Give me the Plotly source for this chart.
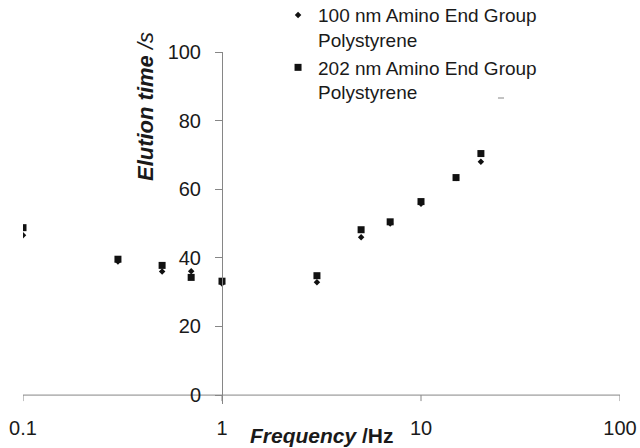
import plotly.graph_objects as go

frequency_hz = [0.1, 0.3, 0.5, 0.7, 1, 3, 5, 7, 10, 15, 20]
elution_100nm = [46.6, 38.9, 36.0, 36.1, 32.5, 32.9, 46.0, 50.0, 55.8, 63.3, 68.0]
elution_202nm = [48.8, 39.6, 37.8, 34.3, 33.2, 34.8, 48.2, 50.5, 56.4, 63.4, 70.4]
series_names = ["100 nm Amino End Group<br>Polystyrene", "202 nm Amino End Group<br>Polystyrene"]
x_range_decades = [-1, 2]
x_tickvals = [0.1, 1, 10, 100]
y_tickvals = [0, 20, 40, 60, 80, 100]
tick_depth = 1.75

FONT = "Liberation Sans, Arial, sans-serif"
TXT = "#1a1a1a"
AX = "#868686"

# x-axis line and downward ticks built from the tick values
axis_x = [x_tickvals[0], x_tickvals[-1]]
tick_x, tick_y = [], []
for v in x_tickvals:
    tick_x += [v, v, None]
    tick_y += [0, -tick_depth, None]

fig = go.Figure()
fig.add_trace(go.Scatter(x=axis_x, y=[0, 0], mode="lines", showlegend=False, hoverinfo="skip",
                         line=dict(color=AX, width=1)))
fig.add_trace(go.Scatter(x=tick_x, y=tick_y, mode="lines", showlegend=False, hoverinfo="skip",
                         connectgaps=False, line=dict(color=AX, width=1)))
fig.add_trace(go.Scatter(x=frequency_hz, y=elution_100nm, mode="markers", name=series_names[0],
                         marker=dict(symbol="diamond", size=5, color="#111111", line=dict(width=0))))
fig.add_trace(go.Scatter(x=frequency_hz, y=elution_202nm, mode="markers", name=series_names[1],
                         marker=dict(symbol="square", size=7, color="#111111", line=dict(width=0))))

fig.update_layout(
    width=640, height=448,
    margin=dict(l=23, r=20, t=52, b=44, autoexpand=False),
    paper_bgcolor="white", plot_bgcolor="white",
    font=dict(family=FONT, size=20, color=TXT),
    showlegend=True,
    legend=dict(x=0.4272, y=1.1588, xanchor="left", yanchor="top", valign="top",
                font=dict(family=FONT, size=19, color=TXT), bgcolor="rgba(0,0,0,0)",
                itemwidth=30, tracegroupgap=0),
    xaxis=dict(type="log", range=x_range_decades, dtick=1, side="bottom",
               automargin=False,
               showgrid=False, zeroline=False, showline=False,
               ticks="", ticklabelstandoff=10, tickfont=dict(size=20, color=TXT, family=FONT)),
    yaxis=dict(range=[-2.6, 100], tickvals=y_tickvals, anchor="free", position=1/3,
               automargin=False,
               showgrid=False, zeroline=False,
               showline=True, linecolor=AX, linewidth=1,
               ticks="outside", ticklen=7, tickcolor=AX, tickwidth=1,
               ticklabelstandoff=10, tickfont=dict(size=20, color=TXT, family=FONT)),
    annotations=[
        dict(text="<b><i>Frequency</i> /Hz</b>", xref="paper", yref="paper", x=0.5, y=-0.0881,
             xanchor="center", yanchor="middle", showarrow=False, font=dict(size=21, color=TXT, family=FONT)),
        dict(text="<b><i>Elution time</i></b><i> /s</i>", xref="paper", yref="paper", x=0.2044, y=0.8437,
             xanchor="center", yanchor="middle", textangle=-90, showarrow=False,
             font=dict(size=22, color=TXT, family=FONT)),
    ],
    shapes=[dict(type="line", xref="paper", yref="paper", x0=0.7956, x1=0.8057, y0=0.8693, y1=0.8693,
                 line=dict(color=AX, width=1))],
)

fig.write_html("out.html")
